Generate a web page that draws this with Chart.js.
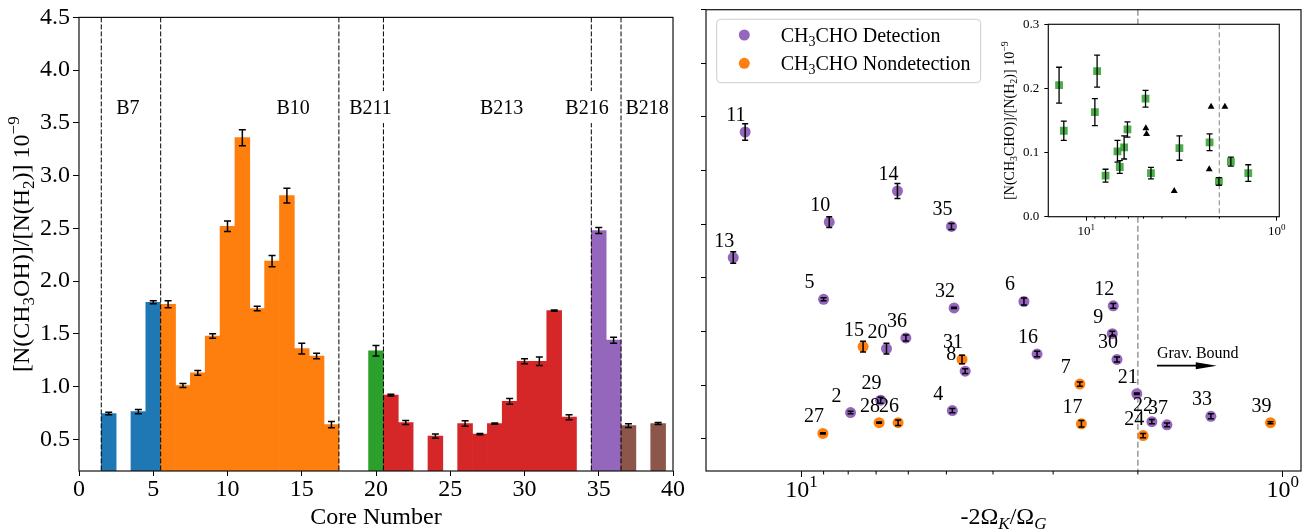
<!DOCTYPE html>
<html>
<head>
<meta charset="utf-8">
<script src="https://cdn.jsdelivr.net/npm/chart.js@4.4.1/dist/chart.umd.min.js"></script>
<style>
  html, body { margin: 0; padding: 0; background: #fff; }
  #wrap { position: relative; width: 1315px; height: 531px; }
  canvas { position: absolute; top: 0; }
  #leftChart { left: 0; }
  #rightChart { left: 690px; }
  #insetChart { left: 1000px; }
</style>
</head>
<body>
<div id="wrap">
  <canvas id="leftChart" width="690" height="531"></canvas>
  <canvas id="rightChart" width="625" height="531"></canvas>
  <canvas id="insetChart" width="300" height="250"></canvas>
</div>
<script>
// cores, one entry each
const cores = [2, 4, 5, 6, 7, 8, 9, 10, 11, 12, 13, 14, 15, 16, 17, 20, 21, 22, 24, 26, 27, 28, 29, 30, 31, 32, 33, 35, 36, 37, 39];
const clouds = ['B7', 'B7', 'B7',
  'B10', 'B10', 'B10', 'B10', 'B10', 'B10', 'B10', 'B10', 'B10', 'B10', 'B10', 'B10',
  'B211',
  'B213', 'B213', 'B213', 'B213', 'B213', 'B213', 'B213', 'B213', 'B213', 'B213', 'B213',
  'B216', 'B216',
  'B218', 'B218'];
// [N(CH3OH)]/[N(H2)] in 1e-9
const methanol = [0.745, 0.763, 1.80, 1.78, 1.01, 1.13, 1.48, 2.52, 3.36, 1.74, 2.19, 2.81, 1.36, 1.29, 0.64, 1.34, 0.92, 0.66, 0.53, 0.65, 0.55, 0.65, 0.86, 1.24, 1.24, 1.72, 0.71, 2.48, 1.44, 0.63, 0.65];
const methanolErr = [0.012, 0.02, 0.014, 0.033, 0.019, 0.022, 0.022, 0.05, 0.076, 0.022, 0.054, 0.07, 0.05, 0.026, 0.03, 0.05, 0.008, 0.019, 0.02, 0.026, 0.006, 0.006, 0.028, 0.023, 0.04, 0.006, 0.023, 0.028, 0.028, 0.017, 0.009];
// -2 Omega_K / Omega_G
const virial = [7.91, 4.86, 9.0, 3.45, 2.64, 4.57, 2.26, 8.76, 13.1, 2.25, 13.87, 6.32, 7.45, 3.24, 2.62, 6.66, 2.01, 1.87, 1.95, 6.30, 9.03, 6.90, 6.85, 2.21, 4.64, 4.82, 1.41, 4.88, 6.07, 1.74, 1.06];
const acetDetected = [true, true, true, true, false, true, true, true, true, true, true, true, false, true, false, true, true, true, false, false, false, false, true, true, false, true, true, true, true, true, false];
// [N(CH3CHO)]/[N(H2)] in 1e-9 (inset); no error = triangle marker
const acetRatio = [0.064, 0.138, 0.163, 0.040, null, 0.068, 0.074, 0.227, 0.134, 0.116, 0.205, 0.108, null, 0.107, null, 0.0775, 0.055, 0.1715, null, null, null, null, 0.102, 0.1715, null, 0.129, 0.068, 0.184, 0.136, 0.086, null];
const acetErr = [0.010, null, 0.021, null, null, 0.009, null, 0.025, 0.015, 0.013, 0.028, 0.018, null, 0.019, null, 0.010, 0.006, null, null, null, null, null, 0.017, null, null, null, 0.013, 0.013, 0.012, 0.007, null];

const cloudNames = ['B7', 'B10', 'B211', 'B213', 'B216', 'B218'];
const cloudColors = ['#1f77b4', '#ff7f0e', '#2ca02c', '#d62728', '#9467bd', '#8c564b'];
const cloudLabelX = [2.5, 13.3, 18.2, 27.0, 32.75, 36.8];
const cloudBounds = [1.5, 5.5, 17.5, 20.5, 34.5, 36.5];

const yTicks = [0.5, 1.0, 1.5, 2.0, 2.5, 3.0, 3.5, 4.0, 4.5];
const logMajor = [10, 1];
const logMinor = [2, 3, 4, 5, 6, 7, 8, 9];
const insetTicks = [0, 0.1, 0.2, 0.3];

const serif = "'Liberation Serif', 'Times New Roman', serif";
const purple = '#9467bd';
const orange = '#ff7f0e';

function partFont(style, size) {
  const s = style === '' ? size : Math.round(size * 0.7);
  return (style === 'isub' ? 'italic ' : '') + s + 'px ' + serif;
}

function drawRich(ctx, parts, x, y, size, align) {
  let w = 0;
  parts.forEach(p => { ctx.font = partFont(p[1], size); w += ctx.measureText(p[0]).width; });
  let cx = align === 'center' ? x - w / 2 : (align === 'right' ? x - w : x);
  ctx.textAlign = 'left';
  ctx.textBaseline = 'alphabetic';
  parts.forEach(p => {
    ctx.font = partFont(p[1], size);
    let dy = 0;
    if (p[1] === 'sup') dy = -size * 0.4;
    if (p[1] === 'sub' || p[1] === 'isub') dy = size * 0.22;
    ctx.fillText(p[0], cx, y + dy);
    cx += ctx.measureText(p[0]).width;
  });
  return w;
}

function drawFrame(chart) {
  const a = chart.chartArea, ctx = chart.ctx;
  ctx.save();
  ctx.strokeStyle = '#111';
  ctx.lineWidth = 1.2;
  ctx.strokeRect(a.left, a.top, a.right - a.left, a.bottom - a.top);
  ctx.restore();
}

function errBar(ctx, x, yTop, yBot, cap) {
  ctx.beginPath();
  ctx.moveTo(x, yTop); ctx.lineTo(x, yBot);
  ctx.moveTo(x - cap, yTop); ctx.lineTo(x + cap, yTop);
  ctx.moveTo(x - cap, yBot); ctx.lineTo(x + cap, yBot);
  ctx.stroke();
}

function drawLogAxis(chart, size, baseline, majorLen, minorLen) {
  const sx = chart.scales.x, a = chart.chartArea, ctx = chart.ctx;
  ctx.save();
  ctx.strokeStyle = '#000';
  ctx.lineWidth = 1;
  logMinor.forEach(v => {
    const px = sx.getPixelForValue(v);
    if (px < a.left || px > a.right) return;
    ctx.beginPath(); ctx.moveTo(px, a.bottom); ctx.lineTo(px, a.bottom + minorLen); ctx.stroke();
  });
  ctx.fillStyle = '#000';
  logMajor.forEach(v => {
    const px = sx.getPixelForValue(v);
    drawRich(ctx, [['10', ''], [String(Math.round(Math.log10(v))), 'sup']], px, baseline, size, 'center');
  });
  ctx.restore();
}

function vDashed(chart, value, color, width, dash) {
  const sx = chart.scales.x, a = chart.chartArea, ctx = chart.ctx;
  const px = sx.getPixelForValue(value);
  ctx.save();
  ctx.strokeStyle = color;
  ctx.lineWidth = width;
  ctx.setLineDash(dash);
  ctx.beginPath(); ctx.moveTo(px, a.top); ctx.lineTo(px, a.bottom); ctx.stroke();
  ctx.restore();
}

const tickFont = { family: serif, size: 24 };

// ---------- left: bar chart ----------
new Chart(document.getElementById('leftChart'), {
  type: 'bar',
  data: {
    datasets: [{
      data: cores.map((c, i) => ({ x: c, y: methanol[i] })),
      backgroundColor: clouds.map(c => cloudColors[cloudNames.indexOf(c)]),
      borderWidth: 0,
      barPercentage: 1,
      categoryPercentage: 1
    }]
  },
  options: {
    responsive: false,
    animation: false,
    layout: { padding: { top: 9.7, right: 17, left: 0, bottom: 0 } },
    plugins: { legend: { display: false }, tooltip: { enabled: false } },
    scales: {
      x: {
        type: 'linear', min: 0, max: 40, offset: false,
        ticks: { stepSize: 5, color: '#000', font: tickFont, padding: -1, maxRotation: 0 },
        grid: { drawOnChartArea: false, offset: false, tickLength: 5, tickColor: '#000' },
        border: { display: false },
        afterFit: s => { s.height = 60; }
      },
      y: {
        min: 0.2, max: 4.5,
        afterBuildTicks: s => { s.ticks = yTicks.map(v => ({ value: v })); },
        ticks: { color: '#000', font: tickFont, padding: 3, callback: v => v.toFixed(1) },
        grid: { drawOnChartArea: false, tickLength: 6, tickColor: '#000' },
        border: { display: false },
        afterFit: s => { s.width = 79; }
      }
    }
  },
  plugins: [{
    id: 'leftDeco',
    afterDatasetsDraw(chart) {
      const ctx = chart.ctx, sx = chart.scales.x, sy = chart.scales.y;
      ctx.save();
      ctx.strokeStyle = '#000';
      ctx.lineWidth = 1.5;
      cores.forEach((c, i) => {
        const px = sx.getPixelForValue(c);
        errBar(ctx, px, sy.getPixelForValue(methanol[i] + methanolErr[i]), sy.getPixelForValue(methanol[i] - methanolErr[i]), 3.5);
      });
      ctx.restore();
      cloudBounds.forEach(b => vDashed(chart, b, '#000', 1, [5, 2]));
      ctx.save();
      ctx.font = '20px ' + serif;
      cloudNames.forEach((n, k) => {
        const px = sx.getPixelForValue(cloudLabelX[k]);
        const py = sy.getPixelForValue(3.65);
        const w = ctx.measureText(n).width;
        ctx.fillStyle = '#fff';
        ctx.fillRect(px - 3, py - 16, w + 6, 32);
        ctx.fillStyle = '#000';
        ctx.textAlign = 'left';
        ctx.textBaseline = 'alphabetic';
        ctx.fillText(n, px, py + 6.5);
      });
      ctx.restore();
    },
    afterDraw(chart) {
      const ctx = chart.ctx, a = chart.chartArea;
      drawFrame(chart);
      ctx.save();
      ctx.fillStyle = '#000';
      drawRich(ctx, [['Core Number', '']], (a.left + a.right) / 2, 524, 24, 'center');
      ctx.translate(29, (a.top + a.bottom) / 2);
      ctx.rotate(-Math.PI / 2);
      drawRich(ctx, [['[N(CH', ''], ['3', 'sub'], ['OH)]/[N(H', ''], ['2', 'sub'], [')] 10', ''], ['\u22129', 'sup']], 0, 0, 24, 'center');
      ctx.restore();
    }
  }]
});

// ---------- right: scatter ----------
const idx = cores.map((c, i) => i);
const toPoint = i => ({ x: virial[i], y: methanol[i], core: cores[i], err: methanolErr[i] });

new Chart(document.getElementById('rightChart'), {
  type: 'scatter',
  data: {
    datasets: [
      { label: 'Detection', data: idx.filter(i => acetDetected[i]).map(toPoint), backgroundColor: purple, pointRadius: 5.5, borderWidth: 0 },
      { label: 'Nondetection', data: idx.filter(i => !acetDetected[i]).map(toPoint), backgroundColor: orange, pointRadius: 5.5, borderWidth: 0 }
    ]
  },
  options: {
    responsive: false,
    animation: false,
    layout: { padding: { top: 9.7, right: 14, left: 0, bottom: 0 } },
    plugins: { legend: { display: false }, tooltip: { enabled: false } },
    scales: {
      x: {
        type: 'logarithmic', reverse: true, min: 0.916, max: 15.8,
        afterBuildTicks: s => { s.ticks = logMajor.map(v => ({ value: v })); },
        ticks: { callback: () => '', font: tickFont },
        grid: { drawOnChartArea: false, tickLength: 6, tickColor: '#000' },
        border: { display: false },
        afterFit: s => { s.height = 60; }
      },
      y: {
        min: 0.2, max: 4.5,
        afterBuildTicks: s => { s.ticks = yTicks.map(v => ({ value: v })); },
        ticks: { callback: () => '', padding: 0 },
        grid: { drawOnChartArea: false, tickLength: 5, tickColor: '#000' },
        border: { display: false },
        afterFit: s => { s.width = 16; }
      }
    }
  },
  plugins: [{
    id: 'rightDeco',
    beforeDatasetsDraw(chart) {
      vDashed(chart, 2, '#999', 1.5, [6, 3]);
    },
    afterDatasetsDraw(chart) {
      const ctx = chart.ctx, sy = chart.scales.y;
      ctx.save();
      ctx.strokeStyle = '#000';
      ctx.lineWidth = 1.5;
      chart.data.datasets.forEach((ds, d) => {
        chart.getDatasetMeta(d).data.forEach((el, j) => {
          const p = ds.data[j];
          errBar(ctx, el.x, sy.getPixelForValue(p.y + p.err), sy.getPixelForValue(p.y - p.err), 3);
        });
      });
      ctx.fillStyle = '#000';
      ctx.font = '20px ' + serif;
      ctx.textAlign = 'left';
      ctx.textBaseline = 'alphabetic';
      chart.data.datasets.forEach((ds, d) => {
        chart.getDatasetMeta(d).data.forEach((el, j) => {
          ctx.fillText(String(ds.data[j].core), el.x - 19, el.y - 11);
        });
      });
      ctx.restore();
    },
    afterDraw(chart) {
      const ctx = chart.ctx, a = chart.chartArea, sx = chart.scales.x, sy = chart.scales.y;
      drawFrame(chart);
      drawLogAxis(chart, 24, 497, 6, 3.5);
      ctx.save();
      ctx.fillStyle = '#000';
      drawRich(ctx, [['-2\u03A9', ''], ['K', 'isub'], ['/\u03A9', ''], ['G', 'isub']], (a.left + a.right) / 2, 524, 24, 'center');

      // gravitationally bound annotation
      const tx = sx.getPixelForValue(1.825), ty = sy.getPixelForValue(1.29);
      ctx.font = '16px ' + serif;
      ctx.textAlign = 'left';
      ctx.textBaseline = 'middle';
      ctx.fillText('Grav. Bound', tx, ty);
      const ax = sx.getPixelForValue(1.371), ay = sy.getPixelForValue(1.182);
      ctx.strokeStyle = '#000';
      ctx.lineWidth = 1.8;
      ctx.beginPath(); ctx.moveTo(tx, ay); ctx.lineTo(ax - 18, ay); ctx.stroke();
      ctx.beginPath(); ctx.moveTo(ax, ay); ctx.lineTo(ax - 21, ay - 3.5); ctx.lineTo(ax - 21, ay + 3.5); ctx.closePath(); ctx.fill();

      // legend
      const lx = a.left + 10.7, ly = a.top + 9.6;
      ctx.fillStyle = 'rgba(255,255,255,0.8)';
      ctx.strokeStyle = '#cccccc';
      ctx.lineWidth = 1;
      ctx.beginPath();
      ctx.roundRect(lx, ly, 264, 63.4, 4);
      ctx.fill(); ctx.stroke();
      const rows = [[purple, 'Detection', 35], [orange, 'Nondetection', 63.3]];
      rows.forEach(r => {
        const yy = r[2] - 9.7 + a.top;
        ctx.fillStyle = r[0];
        ctx.beginPath(); ctx.arc(a.left + 38.3, yy, 5.5, 0, Math.PI * 2); ctx.fill();
        ctx.fillStyle = '#000';
        drawRich(ctx, [['CH', ''], ['3', 'sub'], ['CHO ' + r[1], '']], a.left + 74.7, yy + 6.6, 20, 'left');
      });
      ctx.restore();
    }
  }]
});

// ---------- inset ----------
const insetFont = { family: serif, size: 13 };
const toInset = i => ({ x: virial[i], y: acetRatio[i], err: acetErr[i] });

new Chart(document.getElementById('insetChart'), {
  type: 'scatter',
  data: {
    datasets: [
      { data: idx.filter(i => acetRatio[i] !== null && acetErr[i] !== null).map(toInset), pointStyle: 'rect', pointRadius: 5.5, backgroundColor: 'rgba(44,160,44,0.85)', borderWidth: 0 },
      { data: idx.filter(i => acetRatio[i] !== null && acetErr[i] === null).map(toInset), pointStyle: 'triangle', pointRadius: 4, backgroundColor: '#000', borderWidth: 0 }
    ]
  },
  options: {
    responsive: false,
    animation: false,
    layout: { padding: { top: 24.3, right: 20.7, left: 0, bottom: 0 } },
    plugins: { legend: { display: false }, tooltip: { enabled: false } },
    scales: {
      x: {
        type: 'logarithmic', reverse: true, min: 0.969, max: 15.8,
        afterBuildTicks: s => { s.ticks = logMajor.map(v => ({ value: v })); },
        ticks: { callback: () => '', font: insetFont },
        grid: { drawOnChartArea: false, tickLength: 4, tickColor: '#000' },
        border: { display: false },
        afterFit: s => { s.height = 33.3; }
      },
      y: {
        min: 0, max: 0.3,
        afterBuildTicks: s => { s.ticks = insetTicks.map(v => ({ value: v })); },
        ticks: { color: '#000', font: insetFont, padding: 5, callback: v => v.toFixed(1) },
        grid: { drawOnChartArea: false, tickLength: 4, tickColor: '#000' },
        border: { display: false },
        afterFit: s => { s.width = 48.3; }
      }
    }
  },
  plugins: [{
    id: 'insetDeco',
    beforeDraw(chart) {
      const a = chart.chartArea, ctx = chart.ctx;
      ctx.save();
      ctx.fillStyle = '#fff';
      ctx.fillRect(a.left, a.top, a.right - a.left, a.bottom - a.top);
      ctx.restore();
    },
    beforeDatasetsDraw(chart) {
      vDashed(chart, 2, '#999', 1.2, [5, 3]);
    },
    afterDatasetsDraw(chart) {
      const ctx = chart.ctx, sy = chart.scales.y;
      const ds = chart.data.datasets[0];
      ctx.save();
      ctx.strokeStyle = '#000';
      ctx.lineWidth = 1.3;
      chart.getDatasetMeta(0).data.forEach((el, j) => {
        const p = ds.data[j];
        errBar(ctx, el.x, sy.getPixelForValue(p.y + p.err), sy.getPixelForValue(p.y - p.err), 3);
      });
      ctx.restore();
    },
    afterDraw(chart) {
      const ctx = chart.ctx, a = chart.chartArea;
      drawFrame(chart);
      drawLogAxis(chart, 13, 235, 4, 2);
      ctx.save();
      ctx.fillStyle = '#000';
      ctx.translate(14, (a.top + a.bottom) / 2);
      ctx.rotate(-Math.PI / 2);
      drawRich(ctx, [['[N(CH', ''], ['3', 'sub'], ['CHO)]/[N(H', ''], ['2', 'sub'], [')] 10', ''], ['\u22129', 'sup']], 0, 0, 14, 'center');
      ctx.restore();
    }
  }]
});
</script>
</body>
</html>
